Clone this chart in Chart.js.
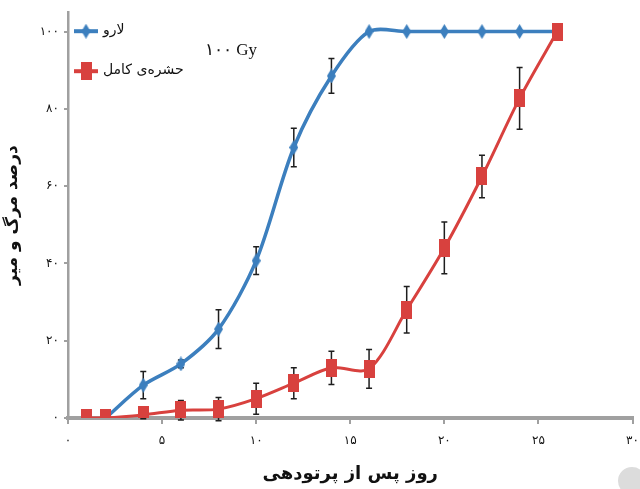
<!DOCTYPE html>
<html lang="fa">
  <head>
    <meta charset="UTF-8" />
    <title>درصد مرگ و میر</title>
    <script src="https://cdn.jsdelivr.net/npm/chart.js@4"></script>
    <style>
      html, body { margin: 0; padding: 0; background: #fff; overflow: hidden; }
      #wrap { position: relative; width: 640px; height: 489px; }
    </style>
  </head>
  <body>
    <div id="wrap"><canvas id="myChart"></canvas></div>

    <script>
      // data
      const larvaDays = [2, 4, 6, 8, 10, 12, 14, 16, 18, 20, 22, 24, 26];
      const larvaValues = [0, 8.5, 14, 23, 40.7, 70, 88.5, 100, 100, 100, 100, 100, 100];
      const larvaErr = [0, 3.5, 1, 5, 3.6, 5, 4.5, 0, 0, 0, 0, 0, 0];

      const adultDays = [1, 2, 4, 6, 8, 10, 12, 14, 16, 18, 20, 22, 24, 26];
      const adultValues = [0, 0, 0.8, 2, 2.3, 5, 9, 13, 12.7, 28, 44, 62.5, 82.7, 100];
      const adultErr = [0, 0, 1, 2.5, 3, 4, 4, 4.3, 5, 6, 6.7, 5.5, 8, 0];

      const xTicks = [0, 5, 10, 15, 20, 25, 30];
      const yTicks = [0, 20, 40, 60, 80, 100];

      const labels = ['لارو', 'حشره‌ی کامل'];
      const doseLabel = '۱۰۰ Gy';
      const xTitle = 'روز پس از پرتودهی';
      const yTitle = 'درصد مرگ و میر';

      const BLUE = '#3c7fbe';
      const RED = '#d8413e';
      const AXIS = '#a0a0a0';

      const faDigits = v => String(v).replace(/\d/g, d => '۰۱۲۳۴۵۶۷۸۹'[d]);

      function diamond(w, h, color) {
        const c = document.createElement('canvas');
        c.width = w; c.height = h;
        const g = c.getContext('2d');
        g.fillStyle = color;
        g.beginPath();
        g.moveTo(w / 2, 0); g.lineTo(w, h / 2); g.lineTo(w / 2, h); g.lineTo(0, h / 2);
        g.closePath(); g.fill();
        return c;
      }
      function box(w, h, color) {
        const c = document.createElement('canvas');
        c.width = w; c.height = h;
        const g = c.getContext('2d');
        g.fillStyle = color;
        g.fillRect(0, 0, w, h);
        return c;
      }
      const blueMark = diamond(9, 15, BLUE);
      const redMark = box(11, 18, RED);

      // error bars, drawn under the markers
      const errorBars = {
        id: 'errorBars',
        beforeDatasetsDraw(chart) {
          const ctx = chart.ctx;
          const ys = chart.scales.y;
          ctx.save();
          ctx.strokeStyle = '#1e1e1e';
          ctx.lineWidth = 1.5;
          chart.data.datasets.forEach((ds, i) => {
            const meta = chart.getDatasetMeta(i);
            ds.errors.forEach((e, j) => {
              if (!e) return;
              const p = meta.data[j];
              const v = ds.data[j].y;
              const top = ys.getPixelForValue(v + e);
              const bot = ys.getPixelForValue(v - e);
              ctx.beginPath();
              ctx.moveTo(p.x, top); ctx.lineTo(p.x, bot);
              ctx.moveTo(p.x - 3, top); ctx.lineTo(p.x + 3, top);
              ctx.moveTo(p.x - 3, bot); ctx.lineTo(p.x + 3, bot);
              ctx.stroke();
            });
          });
          ctx.restore();
        }
      };

      // legend inside the plot + dose label
      const insideLegend = {
        id: 'insideLegend',
        afterDraw(chart) {
          const ctx = chart.ctx;
          const a = chart.chartArea;
          ctx.save();
          const rows = [19, 59];
          chart.data.datasets.forEach((ds, i) => {
            const y = a.top + rows[i];
            const x0 = a.left + 6, x1 = a.left + 30;
            ctx.strokeStyle = ds.borderColor;
            ctx.lineWidth = 4;
            ctx.beginPath(); ctx.moveTo(x0, y); ctx.lineTo(x1, y); ctx.stroke();
            const img = ds.pointStyle;
            ctx.drawImage(img, (x0 + x1) / 2 - img.width / 2, y - img.height / 2);
            ctx.fillStyle = '#111';
            ctx.font = '14px "DejaVu Sans"';
            ctx.textAlign = 'left';
            ctx.textBaseline = 'middle';
            ctx.fillText(ds.label, x1 + 5, y - 1);
          });
          ctx.font = '17px "Liberation Serif"';
          ctx.fillStyle = '#111';
          ctx.textAlign = 'left';
          ctx.textBaseline = 'middle';
          ctx.fillText(doseLabel, a.left + 137, a.top + 38);

          ctx.fillStyle = '#dcdcdc';
          ctx.beginPath(); ctx.arc(632, 481, 14, 0, Math.PI * 2); ctx.fill();
          ctx.restore();
        }
      };

      const ctx = document.getElementById('myChart').getContext('2d');
      const myChart = new Chart(ctx, {
        type: 'line',
        data: {
          datasets: [
            {
              label: labels[0],
              data: larvaDays.map((d, i) => ({ x: d, y: larvaValues[i] })),
              errors: larvaErr,
              borderColor: BLUE,
              backgroundColor: BLUE,
              borderWidth: 3.5,
              tension: 0.3,
              pointStyle: blueMark,
              order: 1
            },
            {
              label: labels[1],
              data: adultDays.map((d, i) => ({ x: d, y: adultValues[i] })),
              errors: adultErr,
              borderColor: RED,
              backgroundColor: RED,
              borderWidth: 3,
              tension: 0.3,
              pointStyle: redMark,
              order: 0
            }
          ]
        },
        options: {
          responsive: true,
          maintainAspectRatio: false,
          animation: false,
          layout: { padding: { top: 9, right: 2, left: 0, bottom: 0 } },
          plugins: { legend: { display: false }, tooltip: { enabled: false } },
          scales: {
            x: {
              type: 'linear',
              min: 0,
              max: 30,
              afterBuildTicks: s => { s.ticks = xTicks.map(v => ({ value: v })); },
              afterFit: s => { s.height = 71; s.paddingRight = 0; s.paddingLeft = 0; },
              grid: { drawOnChartArea: false, drawTicks: true, tickLength: 6, color: AXIS, lineWidth: 2 },
              border: { color: AXIS, width: 4 },
              ticks: {
                callback: v => faDigits(v),
                color: '#111',
                font: { family: 'DejaVu Sans', size: 12 },
                padding: 10,
                maxRotation: 0
              },
              title: {
                display: true,
                text: xTitle,
                color: '#111',
                font: { family: 'DejaVu Sans', size: 18, weight: 'bold' },
                padding: { top: 16 }
              }
            },
            y: {
              min: 0,
              max: 105,
              afterBuildTicks: s => { s.ticks = yTicks.map(v => ({ value: v })); },
              afterFit: s => { s.width = 68; },
              grid: { drawOnChartArea: false, drawTicks: true, tickLength: 4, color: AXIS, lineWidth: 2 },
              border: { color: AXIS, width: 2.5 },
              ticks: {
                callback: v => faDigits(v),
                color: '#111',
                font: { family: 'DejaVu Sans', size: 12 },
                padding: 5
              },
              title: {
                display: true,
                text: yTitle,
                color: '#111',
                font: { family: 'DejaVu Sans', size: 17, weight: 'bold' },
                padding: { top: 2, bottom: 4 }
              }
            }
          }
        },
        plugins: [errorBars, insideLegend]
      });
    </script>
  </body>
</html>
